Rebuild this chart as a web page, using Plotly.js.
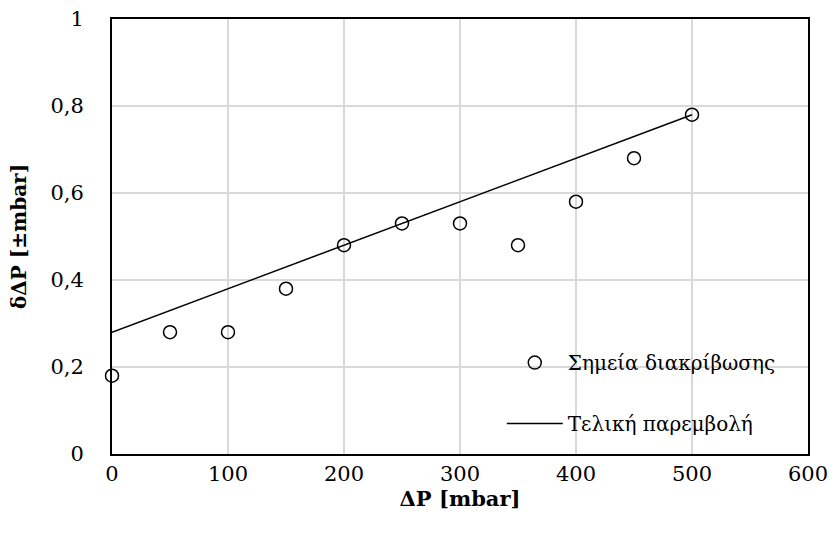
<!DOCTYPE html>
<html><head><meta charset="utf-8">
<script src="https://cdn.plot.ly/plotly-3.0.1.min.js"></script>
<style>html,body{margin:0;padding:0;background:#fff}</style>
</head><body><div id="chart" style="width:834px;height:534px"></div>
<script>
const pointsX = [0, 50, 100, 150, 200, 250, 300, 350, 400, 450, 500];
const pointsY = [0.18, 0.28, 0.28, 0.38, 0.48, 0.53, 0.53, 0.48, 0.58, 0.68, 0.78];
const fitX = [0, 500];
const fitY = [0.28, 0.78];
const seriesNames = ['Σημεία διακρίβωσης', 'Τελική παρεμβολή'];
const xTitle = 'ΔP [mbar]';
const yTitle = 'δΔP [±mbar]';

const font = 'DejaVu Serif, serif';
const traces = [
  {x: pointsX, y: pointsY, mode: 'markers', name: seriesNames[0], legendgroup: 'a',
   cliponaxis: false,
   marker: {symbol: 'circle-open', size: 13, color: '#000', line: {width: 1.5, color: '#000'}}},
  {x: fitX, y: fitY, mode: 'lines', name: seriesNames[1], legendgroup: 'b',
   line: {color: '#000', width: 1.5}}
];
const layout = {
  width: 834, height: 534,
  margin: {l: 112, r: 26, t: 19, b: 80},
  separators: ',.',
  paper_bgcolor: '#fff', plot_bgcolor: '#fff',
  font: {family: font, size: 21, color: '#000'},
  showlegend: true,
  legend: {x: 0.56, y: 0.255, xanchor: 'left', yanchor: 'top', bgcolor: 'rgba(0,0,0,0)',
           itemwidth: 56,
           traceorder: 'grouped', tracegroupgap: 32, font: {family: font, size: 20}},
  xaxis: {range: [0, 600], dtick: 100, tick0: 0, showgrid: true, gridcolor: '#d9d9d9', gridwidth: 1.5,
          zeroline: false, showline: true, mirror: true, linecolor: '#000', linewidth: 2,
          ticks: '', tickfont: {family: font, size: 21},
          title: {text: '<b>' + xTitle + '</b>', font: {family: font, size: 21}, standoff: 0}},
  yaxis: {range: [0, 1], dtick: 0.2, tick0: 0, showgrid: true, gridcolor: '#d9d9d9', gridwidth: 1.5,
          zeroline: false, showline: true, mirror: true, linecolor: '#000', linewidth: 2,
          ticks: 'outside', ticklen: 22, tickcolor: 'rgba(0,0,0,0)', tickfont: {family: font, size: 21},
          title: {text: '<b>' + yTitle + '</b>', font: {family: font, size: 20}, standoff: 18}}
};
Plotly.newPlot('chart', traces, layout, {displayModeBar: false, staticPlot: true});
</script></body></html>
